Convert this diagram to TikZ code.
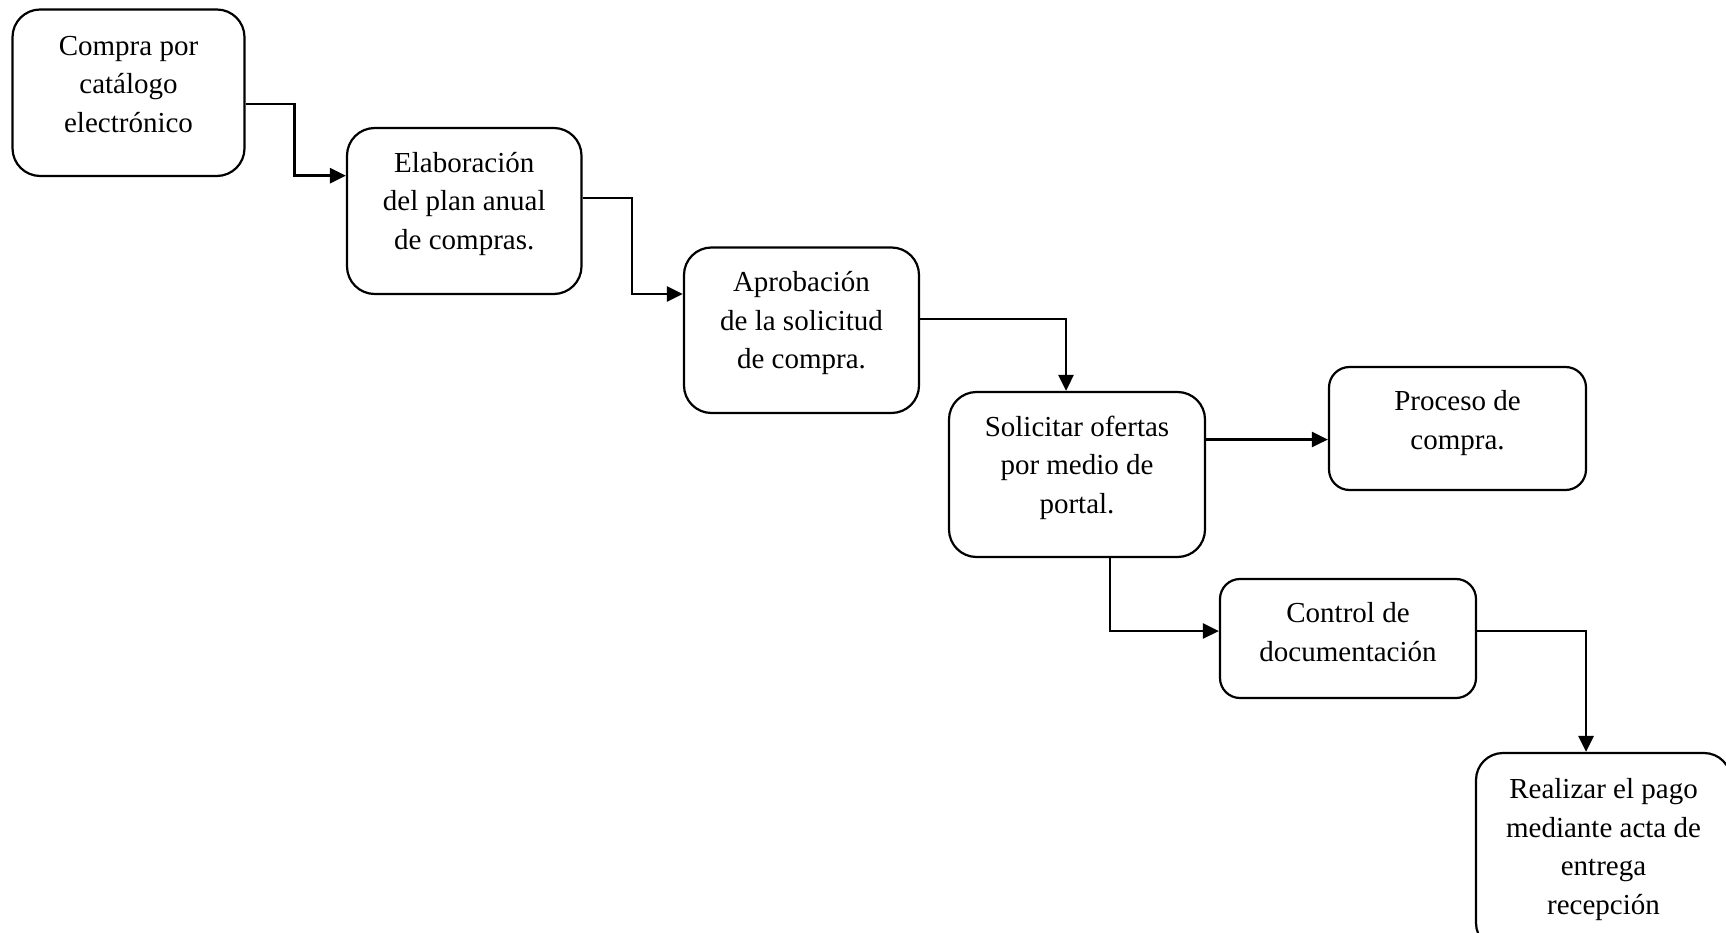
\documentclass[tikz,border=0pt]{standalone}
\usepackage{fontspec}
\setmainfont{Liberation Serif}
\usetikzlibrary{arrows.meta}
\newcommand{\mlines}[1]{\begin{tabular}[t]{@{}c@{}}#1\end{tabular}}
\begin{document}
\begin{tikzpicture}[x=1pt,y=-1pt,
  procbox/.style={draw=black,line width=2.2pt,rectangle,inner sep=0pt},
  boxtxt/.style={anchor=base,inner sep=0pt,font=\fontsize{29}{38.5}\selectfont},
  conn/.style={draw=black,line width=2.8pt,-{Triangle[length=16pt,width=15pt]}}
]
\useasboundingbox (0,0) rectangle (1726,933);
\clip (0,0) rectangle (1726,933);

\node[procbox,minimum width=232pt,minimum height=166.5pt,rounded corners=27.7pt] (b1) at (128.5,92.75) {};
\node[procbox,minimum width=234.5pt,minimum height=166pt,rounded corners=27.7pt] (b2) at (464.25,211) {};
\node[procbox,minimum width=235pt,minimum height=165.5pt,rounded corners=27.5pt] (b3) at (801.5,330.25) {};
\node[procbox,minimum width=256pt,minimum height=165pt,rounded corners=27.5pt] (b4) at (1077,474.5) {};
\node[procbox,minimum width=257pt,minimum height=123pt,rounded corners=20.5pt] (b5) at (1457.5,428.5) {};
\node[procbox,minimum width=256pt,minimum height=119pt,rounded corners=20pt] (b6) at (1348,638.5) {};
\node[procbox,minimum width=255pt,minimum height=197pt,rounded corners=27pt] (b7) at (1603.5,851.5) {};

\node[boxtxt] (t1) at ([yshift=-47pt]b1.north) {\mlines{Compra por\\catálogo\\electrónico}};
\node[boxtxt] (t2) at ([yshift=-45.5pt]b2.north) {\mlines{Elaboración\\del plan anual\\de compras.}};
\node[boxtxt] (t3) at ([yshift=-45.5pt]b3.north) {\mlines{Aprobación\\de la solicitud\\de compra.}};
\node[boxtxt] (t4) at ([yshift=-45.5pt]b4.north) {\mlines{Solicitar ofertas\\por medio de\\portal.}};
\node[boxtxt] (t5) at ([yshift=-45pt]b5.north) {\mlines{Proceso de\\compra.}};
\node[boxtxt] (t6) at ([yshift=-45pt]b6.north) {\mlines{Control de\\documentación}};
\node[boxtxt] (t7) at ([yshift=-47pt]b7.north) {\mlines{Realizar el pago\\mediante acta de\\entrega\\recepción}};

% connectors
\draw[conn] ([yshift=-11.25pt]b1.east) -| ([xshift=-51.5pt,yshift=35.3pt]b2.west) -- ([yshift=35.3pt]b2.west);
\draw[conn] ([yshift=13pt]b2.east) -| ([xshift=-51pt,yshift=36.25pt]b3.west) -- ([yshift=36.25pt]b3.west);
\draw[conn] ([yshift=11.25pt]b3.east) -| ([xshift=-11pt]b4.north);
\coordinate (p45) at ([yshift=-11pt]b5.west);
\draw[conn] (b4.east |- p45) -- (p45);
\draw[conn] ([xshift=33pt]b4.south) |- ([yshift=7.5pt]b6.west);
\draw[conn] ([yshift=7.5pt]b6.east) -| ([xshift=-17.5pt]b7.north);
\end{tikzpicture}
\end{document}
